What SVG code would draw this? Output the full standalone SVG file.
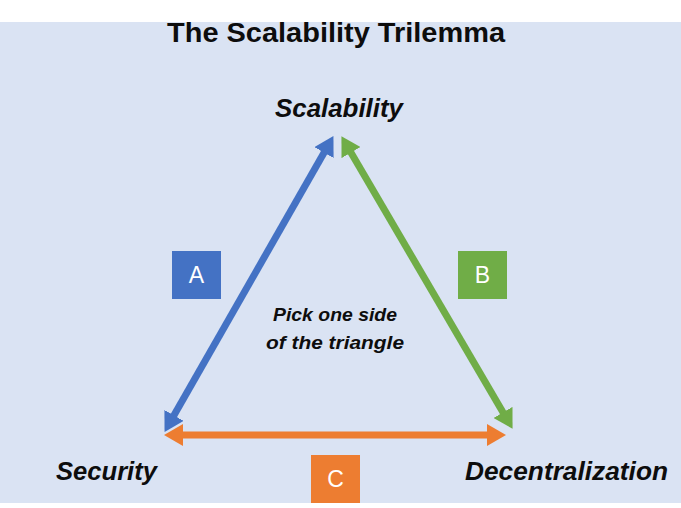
<svg xmlns="http://www.w3.org/2000/svg" width="681" height="508" viewBox="0 0 681 508">
<defs>
<style>
.lbl{font-family:"Liberation Sans",Arial,sans-serif;font-weight:bold;font-style:italic;fill:#0d0d0d}
.box{font-family:"Liberation Sans",Arial,sans-serif;font-size:23px;fill:#ffffff;text-anchor:middle}
.ln{stroke-width:7;fill:none}
</style>
<marker id="mb" markerUnits="userSpaceOnUse" markerWidth="20" markerHeight="22" viewBox="0 0 20 22" refX="6" refY="11" orient="auto-start-reverse"><path d="M0,0 L19,11 L0,22 z" fill="#4472c4"/></marker>
<marker id="mg" markerUnits="userSpaceOnUse" markerWidth="20" markerHeight="22" viewBox="0 0 20 22" refX="6" refY="11" orient="auto-start-reverse"><path d="M0,0 L19,11 L0,22 z" fill="#70ad47"/></marker>
<marker id="mo" markerUnits="userSpaceOnUse" markerWidth="20" markerHeight="22" viewBox="0 0 20 22" refX="6" refY="11" orient="auto-start-reverse"><path d="M0,0 L19,11 L0,22 z" fill="#ed7d31"/></marker>
</defs>
<rect x="0" y="0" width="681" height="508" fill="#ffffff"/>
<rect x="0" y="22" width="681" height="481" fill="#dae3f3"/>
<text x="336" y="42" font-family="'Liberation Sans',Arial,sans-serif" font-weight="bold" font-size="27" fill="#0d0d0d" text-anchor="middle" textLength="338" lengthAdjust="spacingAndGlyphs">The Scalability Trilemma</text>
<g id="connectors">
<line class="ln" stroke="#4472c4" x1="171" y1="420.6" x2="327" y2="147.4" marker-start="url(#mb)" marker-end="url(#mb)"/>
<line class="ln" stroke="#70ad47" x1="348" y1="147.4" x2="506" y2="417.6" marker-start="url(#mg)" marker-end="url(#mg)"/>
<line class="ln" stroke="#ed7d31" x1="177" y1="435" x2="493" y2="435" marker-start="url(#mo)" marker-end="url(#mo)"/>
</g>
<g id="scalability"><text class="lbl" x="275" y="117" font-size="26" textLength="128" lengthAdjust="spacingAndGlyphs">Scalability</text></g>
<g id="security"><text class="lbl" x="56" y="480" font-size="25" textLength="101" lengthAdjust="spacingAndGlyphs">Security</text></g>
<g id="decentralization"><text class="lbl" x="465" y="480" font-size="25" textLength="203" lengthAdjust="spacingAndGlyphs">Decentralization</text></g>
<g id="center-note">
<text class="lbl" x="273" y="321" font-size="19" textLength="124" lengthAdjust="spacingAndGlyphs">Pick one side</text>
<text class="lbl" x="266" y="349" font-size="19" textLength="138" lengthAdjust="spacingAndGlyphs">of the triangle</text>
</g>
<g id="box-a"><rect x="172" y="251" width="49" height="48" fill="#4472c4"/><text class="box" x="196.5" y="283">A</text></g>
<g id="box-b"><rect x="458" y="251" width="49" height="48" fill="#70ad47"/><text class="box" x="482.5" y="283">B</text></g>
<g id="box-c"><rect x="311" y="455" width="49" height="48" fill="#ed7d31"/><text class="box" x="335.5" y="487">C</text></g>
</svg>
